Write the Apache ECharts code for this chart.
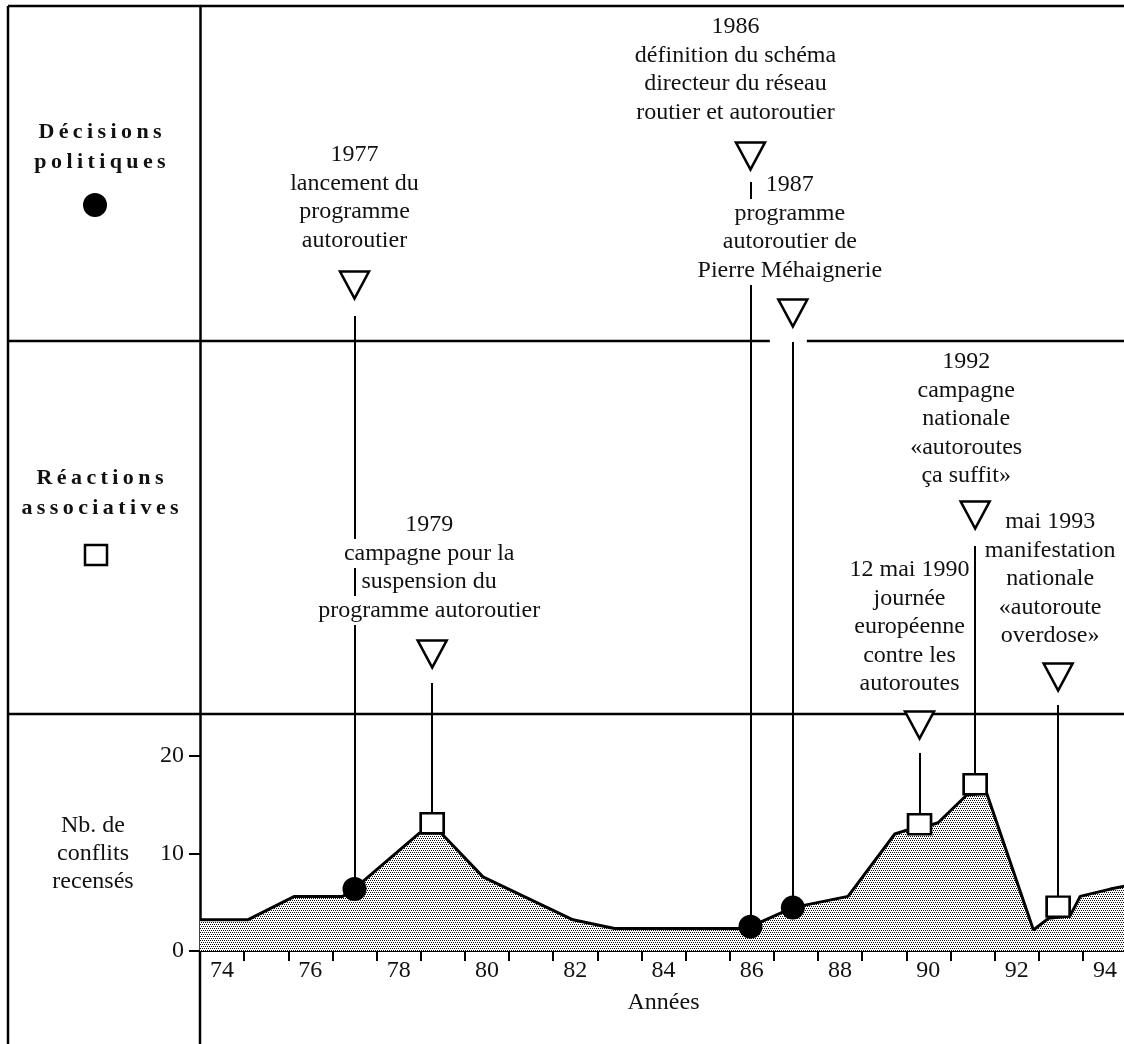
<!DOCTYPE html>
<html style="height: 100%">
<head>
<meta charset="utf-8">
<title>Conflits autoroutiers</title>
</head>
<body style="height: 100%; margin: 0">
<div id="container" style="width: 1124px; height: 1044px"></div>
<script src="https://cdn.jsdelivr.net/npm/echarts@6/dist/echarts.min.js"></script>
<script>
// ---- data ----
var years = ['74','75','76','77','78','79','80','81','82','83','84','85','86','87','88','89','90','91','92','93','94'];
// outline of "Nb. de conflits recensés" (x = year position, 74 = start of 1974)
var conflitX = [74.0, 75.08, 76.14, 77.23, 77.5, 78.97, 79.46, 80.41, 82.45, 83.39, 86.19, 86.47, 87.43, 88.68, 89.74, 90.01, 90.54, 90.72, 91.37, 91.82, 92.88, 93.22, 93.71, 93.94, 94.62, 95.0];
var conflitY = [3.2, 3.2, 5.6, 5.6, 6.4, 12.1, 12.1, 7.6, 3.2, 2.3, 2.3, 2.5, 4.45, 5.6, 12.0, 12.4, 12.9, 13.15, 16.0, 16.2, 2.15, 3.35, 3.6, 5.6, 6.35, 6.7];

var eventX = [77.5, 79.26, 86.47, 87.43, 90.3, 91.56, 93.44];
var eventY = [6.35, 13.1, 2.5, 4.45, 13.0, 17.1, 4.55];
var eventType = ['decision', 'reaction', 'decision', 'decision', 'reaction', 'reaction', 'reaction'];
var eventText = [
    ['1977', 'lancement du', 'programme', 'autoroutier'],
    ['1979', 'campagne pour la', 'suspension du', 'programme autoroutier'],
    ['1986', 'définition du schéma', 'directeur du réseau', 'routier et autoroutier'],
    ['1987', 'programme', 'autoroutier de', 'Pierre Méhaignerie'],
    ['12 mai 1990', 'journée', 'européenne', 'contre les', 'autoroutes'],
    ['1992', 'campagne', 'nationale', '«autoroutes', 'ça suffit»'],
    ['mai 1993', 'manifestation', 'nationale', '«autoroute', 'overdose»']
];
var yTicks = [0, 10, 20];

// ---- layout (pixels) ----
var ZERO_PX = 951, PX_PER_UNIT = 9.75, TOP_PX = 6;
var W = 1124, H = 1044;
var textTop = [155, 525, 27, 185, 570, 362, 522];
var textDx = [0, -3, -15, -3, -10, -9, -8];
var triPx = [285, 654, 156, 313, 725, 515, 677];
var lineTopPx = [316, 683, 182, 342, 753, 546, 705];
var ROW = 28.5;
var FONT = '"Liberation Serif", "Times New Roman", serif';

function py(p) { return (ZERO_PX - p) / PX_PER_UNIT; }

var dom = document.getElementById('container');
var myChart = echarts.init(dom);

// stippled fill
var tile = document.createElement('canvas');
tile.width = 4; tile.height = 4;
var tctx = tile.getContext('2d');
tctx.fillStyle = '#fff';
tctx.fillRect(0, 0, 4, 4);
tctx.fillStyle = '#111';
tctx.fillRect(0, 0, 1, 1); tctx.fillRect(2, 0, 1, 1);
tctx.fillRect(1, 2, 1, 1); tctx.fillRect(3, 2, 1, 1);

var areaData = conflitX.map(function (x, i) { return [x, conflitY[i]]; });

var linkData = [], textData = [], triData = [], decData = [], reacData = [];
for (var i = 0; i < eventX.length; i++) {
    linkData.push({ coords: [[eventX[i], py(lineTopPx[i])], [eventX[i], eventY[i]]] });
    triData.push([eventX[i], py(triPx[i])]);
    if (eventType[i] === 'decision') decData.push([eventX[i], eventY[i]]);
    else reacData.push([eventX[i], eventY[i]]);
    for (var j = 0; j < eventText[i].length; j++) {
        textData.push({
            name: eventText[i][j],
            value: [eventX[i], py(textTop[i] + j * ROW)],
            label: { offset: [textDx[i], 0] }
        });
    }
}

var option = {
    backgroundColor: '#fff',
    animation: false,
    grid: { left: 200, right: -3, top: TOP_PX, bottom: H - ZERO_PX, outerBoundsMode: 'none', containLabel: false },
    xAxis: [{
        type: 'category',
        data: years,
        boundaryGap: true,
        axisLine: { onZero: false, lineStyle: { color: '#000', width: 2 } },
        axisTick: { show: true, inside: false, interval: 0, alignWithLabel: false, length: 10, lineStyle: { color: '#000', width: 2 } },
        axisLabel: { interval: 1, margin: 8, fontFamily: FONT, fontSize: 24, color: '#111' },
        name: 'Années',
        nameLocation: 'middle',
        nameGap: 40,
        nameTextStyle: { fontFamily: FONT, fontSize: 24, color: '#111' },
        splitLine: { show: false }
    }, {
        type: 'value',
        min: 74,
        max: 95,
        show: false
    }],
    yAxis: {
        type: 'value',
        min: 0,
        max: (ZERO_PX - TOP_PX) / PX_PER_UNIT,
        axisLine: { show: true, onZero: false, lineStyle: { color: '#000', width: 2.5 } },
        axisTick: { show: true, customValues: yTicks, length: 11, lineStyle: { color: '#000', width: 2 } },
        axisLabel: { customValues: yTicks, margin: 16, fontFamily: FONT, fontSize: 24, color: '#111' },
        splitLine: { show: false }
    },
    series: [{
        name: 'conflits',
        type: 'line',
        xAxisIndex: 1,
        data: areaData,
        symbol: 'none',
        lineStyle: { color: '#000', width: 3 },
        areaStyle: { color: { image: tile, repeat: 'repeat' }, opacity: 1 },
        z: 2
    }, {
        type: 'lines',
        coordinateSystem: 'cartesian2d',
        xAxisIndex: 1,
        data: linkData,
        lineStyle: { color: '#000', width: 2, opacity: 1 },
        z: 3
    }, {
        type: 'scatter',
        xAxisIndex: 1,
        data: textData,
        symbolSize: 1,
        itemStyle: { color: 'rgba(0,0,0,0)', opacity: 1 },
        label: {
            show: true,
            position: 'inside',
            formatter: '{b}',
            fontFamily: FONT,
            fontSize: 24,
            lineHeight: 29,
            color: '#111',
            opacity: 1,
            backgroundColor: '#fff',
            padding: [0, 2]
        },
        z: 4
    }, {
        type: 'scatter',
        xAxisIndex: 1,
        data: triData,
        symbol: 'triangle',
        symbolRotate: 180,
        symbolSize: [29, 27],
        itemStyle: { color: '#fff', borderColor: '#000', borderWidth: 2.5, opacity: 1 },
        z: 5
    }, {
        type: 'scatter',
        xAxisIndex: 1,
        data: decData,
        symbol: 'circle',
        symbolSize: 24,
        itemStyle: { color: '#000', opacity: 1 },
        z: 6
    }, {
        type: 'scatter',
        xAxisIndex: 1,
        data: reacData,
        symbol: 'rect',
        symbolSize: [23, 20],
        itemStyle: { color: '#fff', borderColor: '#000', borderWidth: 2.5, opacity: 1 },
        z: 6
    }]
};
myChart.setOption(option, true);

// frame and left column
var gapC = myChart.convertToPixel({ xAxisIndex: 1 }, eventX[3]);
var axisX = myChart.convertToPixel({ xAxisIndex: 1 }, 74);
function seg(x1, y1, x2, y2) {
    return { type: 'line', z: 1, shape: { x1: x1, y1: y1, x2: x2, y2: y2 }, style: { stroke: '#000', lineWidth: 2.5 } };
}
function label(t, x, y, font) {
    return { type: 'text', z: 10, style: { text: t, x: x, y: y, font: font, fill: '#111', align: 'center', verticalAlign: 'middle' } };
}
var sp = '\u2009';
var boldFont = 'bold 22px ' + FONT;
var regFont = '24px ' + FONT;
myChart.setOption({
    graphic: [
        seg(8, TOP_PX, W, TOP_PX),
        seg(8, TOP_PX, 8, H),
        seg(axisX, ZERO_PX, axisX, H),
        seg(8, 341, gapC - 23, 341),
        seg(gapC + 14, 341, W, 341),
        seg(8, 714, W, 714),
        label('Décisions'.split('').join(sp), 100, 132, boldFont),
        label('politiques'.split('').join(sp), 100, 162, boldFont),
        { type: 'circle', z: 10, shape: { cx: 95, cy: 205, r: 12 }, style: { fill: '#000' } },
        label('Réactions'.split('').join(sp), 100, 478, boldFont),
        label('associatives'.split('').join(sp), 100, 508, boldFont),
        { type: 'rect', z: 10, shape: { x: 85, y: 545, width: 22, height: 20 }, style: { fill: '#fff', stroke: '#000', lineWidth: 2.5 } },
        label('Nb. de', 93, 826, regFont),
        label('conflits', 93, 854, regFont),
        label('recensés', 93, 882, regFont)
    ]
});
</script>
</body>
</html>
